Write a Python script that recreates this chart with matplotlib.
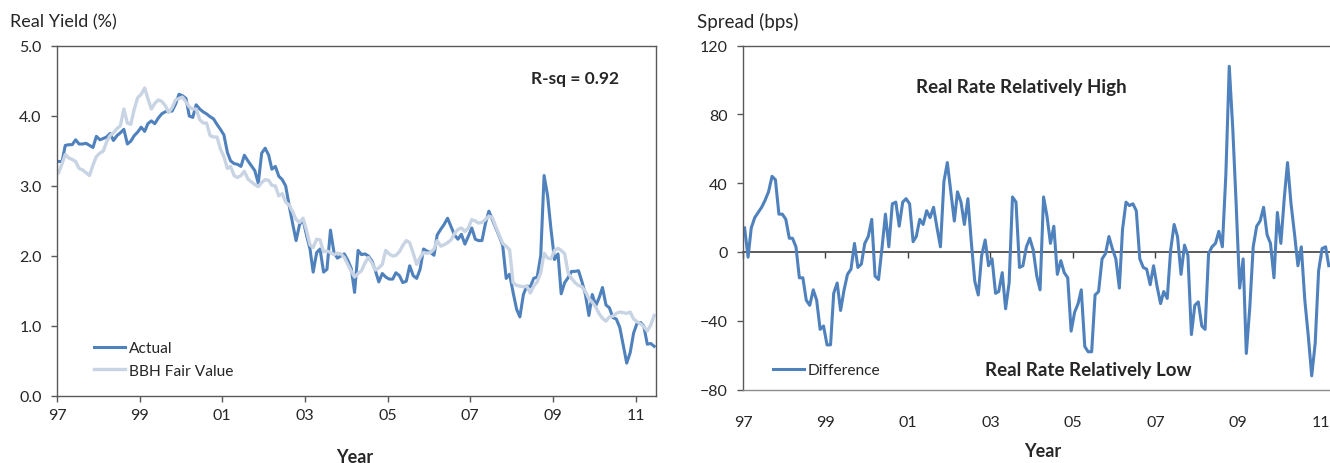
import numpy as np
import pandas as pd
import matplotlib
matplotlib.use("Agg")
import matplotlib.pyplot as plt
import matplotlib.dates as mdates

plt.rcParams['font.family'] = ['Lato', 'DejaVu Sans']

# monthly data, Jan 1997 onwards (one row of 12 per year)
actual = [
    3.35, 3.35, 3.58, 3.59, 3.59, 3.66, 3.60, 3.60, 3.61, 3.58, 3.55, 3.71,
    3.66, 3.68, 3.70, 3.75, 3.65, 3.72, 3.76, 3.81, 3.60, 3.64, 3.72, 3.77,
    3.84, 3.78, 3.89, 3.93, 3.89, 3.97, 4.03, 4.06, 4.07, 4.07, 4.17, 4.31,
    4.29, 4.25, 4.00, 3.98, 4.16, 4.10, 4.06, 4.03, 3.99, 3.96, 3.88, 3.81,
    3.73, 3.48, 3.36, 3.32, 3.31, 3.28, 3.44, 3.36, 3.29, 3.22, 3.04, 3.47,
    3.54, 3.44, 3.24, 3.28, 3.14, 3.09, 3.00, 2.72, 2.46, 2.22, 2.45, 2.52,
    2.30, 2.10, 1.77, 2.05, 2.10, 1.77, 1.81, 2.37, 2.05, 1.97, 2.00, 2.03,
    1.94, 1.82, 1.48, 2.08, 2.02, 2.03, 2.00, 1.93, 1.79, 1.63, 1.75, 1.70,
    1.67, 1.67, 1.76, 1.72, 1.62, 1.64, 1.86, 1.72, 1.68, 1.81, 2.10, 2.07,
    2.05, 2.01, 2.30, 2.38, 2.45, 2.54, 2.42, 2.30, 2.24, 2.31, 2.17, 2.28,
    2.40, 2.24, 2.22, 2.22, 2.46, 2.64, 2.52, 2.40, 2.28, 2.15, 1.68, 1.74,
    1.48, 1.24, 1.13, 1.45, 1.57, 1.56, 1.68, 1.70, 2.00, 3.15, 2.86, 2.38,
    1.95, 2.03, 1.46, 1.62, 1.69, 1.78, 1.78, 1.79, 1.63, 1.45, 1.15, 1.45,
    1.29, 1.41, 1.55, 1.30, 1.26, 1.12, 1.10, 0.98, 0.72, 0.47, 0.62, 0.90,
    1.04, 1.05, 1.00, 0.74, 0.75, 0.71,
]

fair_value = [
    3.19, 3.32, 3.45, 3.40, 3.38, 3.35, 3.25, 3.23, 3.19, 3.15, 3.30, 3.42,
    3.47, 3.50, 3.63, 3.72, 3.76, 3.82, 3.86, 4.10, 3.90, 3.88, 4.10, 4.26,
    4.31, 4.40, 4.25, 4.10, 4.18, 4.23, 4.21, 4.15, 4.05, 4.12, 4.23, 4.25,
    4.27, 4.20, 4.13, 4.10, 4.10, 3.95, 3.90, 3.90, 3.72, 3.70, 3.70, 3.53,
    3.42, 3.25, 3.28, 3.15, 3.12, 3.15, 3.21, 3.10, 3.06, 3.02, 2.99, 3.05,
    3.09, 3.08, 3.01, 3.00, 2.86, 2.89, 2.77, 2.73, 2.63, 2.52, 2.48, 2.54,
    2.37, 2.16, 2.12, 2.24, 2.23, 2.06, 2.07, 2.05, 2.02, 2.04, 2.03, 1.98,
    1.88, 1.78, 1.70, 1.75, 1.79, 1.90, 1.98, 1.90, 1.80, 1.83, 1.88, 2.08,
    2.03, 2.00, 2.01, 2.06, 2.15, 2.22, 2.19, 2.04, 1.88, 1.98, 2.05, 2.04,
    2.05, 2.10, 2.22, 2.14, 2.16, 2.19, 2.23, 2.32, 2.38, 2.40, 2.35, 2.40,
    2.52, 2.50, 2.47, 2.48, 2.52, 2.57, 2.55, 2.42, 2.30, 2.18, 2.14, 2.09,
    1.62, 1.58, 1.57, 1.56, 1.57, 1.47, 1.57, 1.63, 1.76, 2.04, 1.97, 1.96,
    2.08, 2.11, 2.08, 2.03, 1.76, 1.68, 1.62, 1.58, 1.56, 1.49, 1.39, 1.34,
    1.27, 1.17, 1.11, 1.07, 1.13, 1.14, 1.18, 1.20, 1.19, 1.18, 1.20, 1.10,
    1.06, 1.03, 0.99, 0.93, 1.01, 1.15,
]

difference = [
    14, -3, 14, 20, 23, 26, 30, 35, 44, 42, 22, 22,
    19, 8, 8, 3, -15, -15, -28, -31, -22, -28, -45, -43,
    -54, -54, -24, -18, -34, -22, -13, -10, 5, -9, -7, 5,
    9, 19, -14, -16, 2, 22, 3, 28, 29, 15, 29, 31,
    28, 6, 9, 19, 16, 24, 20, 26, 14, 3, 41, 52,
    35, 18, 35, 29, 16, 31, 6, -17, -25, -2, 7, -8,
    -4, -24, -23, -12, -33, -18, 32, 29, -9, -8, 3, 8,
    1, -14, -22, 32, 21, 5, 15, -13, -5, -12, -15, -46,
    -35, -30, -22, -55, -58, -58, -25, -23, -4, -1, 9, 2,
    -4, -21, 13, 29, 27, 28, 24, -4, -9, -10, -19, -8,
    -20, -30, -23, -27, 1, 16, 9, -13, 4, -2, -48, -31,
    -29, -43, -45, -1, 3, 5, 12, 3, 45, 108, 72, 28,
    -21, -4, -59, -32, 3, 15, 18, 26, 10, 5, -15, 23,
    5, 32, 52, 28, 11, -8, 3, -28, -49, -72, -53, -11,
    2, 3, -8,
]

year_ticks = ["1997", "1999", "2001", "2003", "2005", "2007", "2009", "2011"]
yield_ticks = [0, 1, 2, 3, 4, 5]
spread_ticks = [-80, -40, 0, 40, 80, 120]

# mid-month dates
dates = pd.date_range("1997-01-01", periods=len(actual), freq="MS") + pd.Timedelta(days=14)
diff_dates = dates[:len(difference)]

DARK = "#4f81bd"
LIGHT = "#c8d4e4"
FRAME = "#595959"
TXT = "#262626"

fig = plt.figure(figsize=(13.3, 4.64), dpi=100)

# ---------- left panel ----------
ax1 = fig.add_axes([57 / 1330, 67 / 464, 599 / 1330, 350 / 464])
ax1.plot(dates, actual, color=DARK, lw=2.2, label="Actual")
ax1.plot(dates, fair_value, color=LIGHT, lw=2.4, label="BBH Fair Value")
ax1.set_xlim(pd.Timestamp("1997-01-01"), pd.Timestamp("2011-07-01"))
ax1.set_ylim(0, 5)
ax1.set_yticks(yield_ticks)
ax1.yaxis.set_major_formatter(plt.FormatStrFormatter("%.1f"))
ax1.set_xticks([pd.Timestamp(y + "-01-01") for y in year_ticks])
ax1.xaxis.set_major_formatter(mdates.DateFormatter("%y"))
for s in ax1.spines.values():
    s.set_color(FRAME)
    s.set_linewidth(1.0)
ax1.tick_params(direction="out", length=4, width=1, color=FRAME,
                labelsize=11.5, labelcolor=TXT, pad=5)
ax1.tick_params(axis="y", pad=7)
ax1.text(0.865, 0.909, "R-sq = 0.92", transform=ax1.transAxes, ha="center",
         va="center", fontsize=12.5, fontweight="bold", color=TXT)
leg1 = ax1.legend(loc="lower left", bbox_to_anchor=(0.052, 0.035), frameon=False,
                  fontsize=11.2, handlelength=2.0, handletextpad=0.25,
                  labelspacing=0.55, borderaxespad=0)
for t in leg1.get_texts():
    t.set_color(TXT)

# ---------- right panel ----------
ax2 = fig.add_axes([743 / 1330, 73.4 / 464, 587 / 1330, 344 / 464])
ax2.plot(diff_dates, difference, color=DARK, lw=2.2, label="Difference")
ax2.set_xlim(pd.Timestamp("1997-01-01"), pd.Timestamp("2011-03-26"))
ax2.set_ylim(-80, 120)
ax2.set_yticks(spread_ticks)
ax2.set_xticks([pd.Timestamp(y + "-01-01") for y in year_ticks])
ax2.xaxis.set_major_formatter(mdates.DateFormatter("%y"))
ax2.spines["right"].set_visible(False)
for s in ["left", "top"]:
    ax2.spines[s].set_color(FRAME)
    ax2.spines[s].set_linewidth(1.0)
ax2.spines["bottom"].set_color("#8c8c8c")
ax2.spines["bottom"].set_linewidth(1.0)
ax2.tick_params(axis="y", direction="out", length=4, width=1, color=FRAME,
                labelsize=11.5, labelcolor=TXT, pad=7)
ax2.tick_params(axis="x", length=0, labelsize=11.5, labelcolor=TXT, pad=18)

# zero line carrying the year ticks
zero_ax = ax2.secondary_xaxis(80 / 200)
zero_ax.set_xticks([pd.Timestamp(y + "-01-01") for y in year_ticks])
zero_ax.set_xticklabels([])
zero_ax.spines["bottom"].set_color("#404040")
zero_ax.spines["bottom"].set_linewidth(1.2)
zero_ax.tick_params(direction="out", length=4, width=1, color="#404040")

ax2.text(0.474, 0.88, "Real Rate Relatively High", transform=ax2.transAxes,
         ha="center", va="center", fontsize=13.5, fontweight="bold", color=TXT)
ax2.text(0.589, 0.057, "Real Rate Relatively Low", transform=ax2.transAxes,
         ha="center", va="center", fontsize=13.5, fontweight="bold", color=TXT)
leg2 = ax2.legend(loc="center left", bbox_to_anchor=(0.04, 0.057), frameon=False,
                  fontsize=11.2, handlelength=2.0, handletextpad=0.25, borderaxespad=0)
for t in leg2.get_texts():
    t.set_color(TXT)

# titles and axis names
fig.text(10 / 1330, 1 - 22 / 464, "Real Yield (%)", ha="left", va="center",
         fontsize=13, color=TXT)
fig.text(697 / 1330, 1 - 22 / 464, "Spread (bps)", ha="left", va="center",
         fontsize=13.5, color=TXT)
fig.text(355 / 1330, 1 - 458 / 464, "Year", ha="center", va="center",
         fontsize=13, fontweight="bold", color=TXT)
fig.text(1043 / 1330, 1 - 452 / 464, "Year", ha="center", va="center",
         fontsize=13, fontweight="bold", color=TXT)

fig.savefig("out.png", dpi=100)
